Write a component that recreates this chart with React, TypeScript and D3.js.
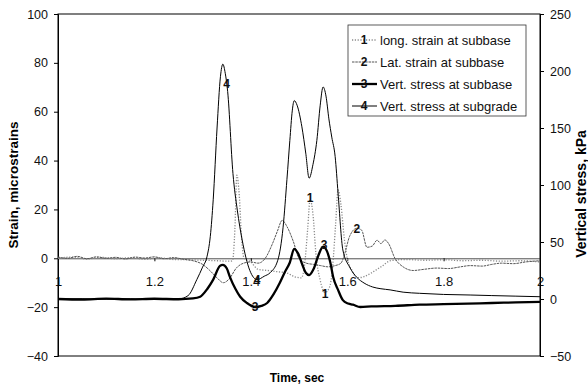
import React, {useEffect, useRef} from 'react';
import * as d3 from 'd3';

// Long. strain at subbase (microstrains, left axis)
const longTime = [1.00, 1.03, 1.06, 1.09, 1.12, 1.15, 1.18, 1.21, 1.24, 1.27, 1.30, 1.33, 1.355, 1.362, 1.367, 1.371, 1.376, 1.381, 1.386, 1.40, 1.415, 1.435, 1.455, 1.475, 1.49, 1.505, 1.512, 1.518, 1.523, 1.529, 1.535, 1.544, 1.554, 1.563, 1.57, 1.576, 1.581, 1.587, 1.594, 1.60, 1.61, 1.62, 1.635, 1.65, 1.67, 1.69, 1.72, 1.76, 1.80, 1.84, 1.88, 1.92, 1.96, 2.00];
const longStrain = [0, 0.5, -0.3, 0.4, -0.2, 0.3, -0.4, 0.2, -0.5, -0.6, -0.8, -1, -1.2, -1, 12, 34, 26, 8, 0, -1.5, -4.5, -5, -5.5, -6, -7.5, -8, -2, 12, 24, 18, 2, -9, -14, -12, -3, 14, 28, 22, 8, 0, -5, -8, -7.5, -6, -3.5, -1, -0.5, -0.8, -0.6, -1, -0.8, -1.2, -1, -1.5];

// Lat. strain at subbase (microstrains, left axis)
const latTime = [1.00, 1.02, 1.04, 1.06, 1.08, 1.10, 1.12, 1.14, 1.16, 1.18, 1.20, 1.22, 1.24, 1.26, 1.28, 1.30, 1.315, 1.33, 1.343, 1.355, 1.37, 1.385, 1.40, 1.415, 1.43, 1.445, 1.455, 1.465, 1.475, 1.488, 1.50, 1.515, 1.53, 1.545, 1.56, 1.575, 1.587, 1.595, 1.605, 1.62, 1.63, 1.641, 1.652, 1.662, 1.67, 1.678, 1.686, 1.699, 1.716, 1.737, 1.76, 1.786, 1.81, 1.835, 1.855, 1.88, 1.90, 1.92, 1.945, 1.97, 2.00];
const latStrain = [0.5, 0, 0.8, -0.2, 0.6, 0, 0.4, -0.3, 0.5, 0.1, 0.6, -0.2, 0.3, -0.4, -1, -2.5, -5, -8, -10, -8.5, -4, -2, -1.5, -2, 0, 6, 11, 15.5, 13, 7, 0, -2, -2.5, -3, -3.5, -3, -2, 2, 9, 12.3, 11.5, 4.5, 5, 7.4, 6, 7.5, 6, 0, -3.5, -5, -4.5, -4, -4.2, -3.5, -3, -3.2, -2.5, -2, -2.2, -1.5, -1];

// Vert. stress at subbase (kPa, right axis)
const subbaseTime = [1.00, 1.05, 1.10, 1.15, 1.20, 1.25, 1.28, 1.295, 1.31, 1.322, 1.336, 1.342, 1.35, 1.357, 1.368, 1.378, 1.392, 1.409, 1.422, 1.434, 1.447, 1.46, 1.471, 1.481, 1.49, 1.498, 1.507, 1.514, 1.521, 1.53, 1.54, 1.55, 1.558, 1.565, 1.571, 1.581, 1.591, 1.602, 1.612, 1.627, 1.65, 1.70, 1.75, 1.80, 1.85, 1.90, 1.95, 2.00];
const subbaseStress = [0, -0.5, 0.3, -0.3, 0.2, -0.2, 0.5, 2, 9, 17, 29, 30, 27, 19, 9, 2, -3.5, -7, -6, -3.5, 4, 14, 24, 32, 44, 40, 30, 23, 21, 26, 38, 46, 42, 32, 19, 8, -1, -4, -5, -7, -6.5, -6, -5, -4.5, -4, -3.5, -3, -2.5];

// Vert. stress at subgrade (kPa, right axis)
const subgradeTime = [1.00, 1.05, 1.10, 1.15, 1.20, 1.25, 1.27, 1.288, 1.30, 1.309, 1.316, 1.322, 1.33, 1.337, 1.342, 1.347, 1.352, 1.363, 1.372, 1.382, 1.398, 1.413, 1.428, 1.44, 1.456, 1.467, 1.475, 1.481, 1.486, 1.49, 1.496, 1.506, 1.514, 1.521, 1.529, 1.537, 1.544, 1.55, 1.556, 1.562, 1.568, 1.575, 1.581, 1.591, 1.605, 1.62, 1.635, 1.653, 1.67, 1.689, 1.716, 1.75, 1.80, 1.855, 1.90, 1.95, 2.00];
const subgradeStress = [0, 0.3, -0.2, 0.2, -0.3, 0, 3, 17, 28, 37, 55, 87, 150, 195, 206, 198, 182, 110, 78, 52, 25, 17, 20, 23, 34, 63, 105, 139, 165, 174, 170, 151, 128, 106, 118, 139, 170, 186, 178, 158, 142, 125, 93, 43, 28, 19, 14, 10.5, 9, 8, 6, 5, 4, 3.5, 3, 2.5, 2];

// numbered markers (time, value)
const longMarks = [[1.523, 25], [1.554, -14.5]];
const latMarks = [[1.62, 12.3]];
const subbaseMarks = [[1.409, -7], [1.552, 48]];
const subgradeMarks = [[1.35, 189], [1.413, 17]];

const timeTicks = [1, 1.2, 1.4, 1.6, 1.8, 2];
const strainTicks = [-40, -20, 0, 20, 40, 60, 80, 100];
const stressTicks = [-50, 0, 50, 100, 150, 200, 250];

const legendLabels = ['long. strain at subbase', 'Lat. strain at subbase', 'Vert. stress at subbase', 'Vert. stress at subgrade'];

const FONT = '"Liberation Sans", Arial, sans-serif';

const Chart = ({width, height}) => {
    const svgRef = useRef(null);

    useEffect(() => {
        const svg = d3.select(svgRef.current);
        svg.selectAll('*').remove();

        const left = 58, right = 540, top = 14, bottom = 356;

        const x = d3.scaleLinear().domain([1, 2]).range([left, right]);
        const yL = d3.scaleLinear().domain([-40, 100]).range([bottom, top]);
        const yR = d3.scaleLinear().domain([-50, 250]).range([bottom, top]);

        const series = [
            {t: longTime, v: longStrain, y: yL, stroke: '#8a8a8a', w: 1.3, dash: '1.2,1.6', marks: longMarks, num: '1'},
            {t: latTime, v: latStrain, y: yL, stroke: '#555', w: 1, dash: '2.5,0.8', marks: latMarks, num: '2'},
            {t: subbaseTime, v: subbaseStress, y: yR, stroke: '#000', w: 2.3, dash: null, marks: subbaseMarks, num: '3'},
            {t: subgradeTime, v: subgradeStress, y: yR, stroke: '#000', w: 1, dash: null, marks: subgradeMarks, num: '4'},
        ];

        // plot frame
        svg.append('rect')
            .attr('x', left).attr('y', top)
            .attr('width', right - left).attr('height', bottom - top)
            .attr('fill', 'none').attr('stroke', '#000').attr('stroke-width', 1);

        // x axis across at zero strain
        const xAxis = d3.axisBottom(x).tickValues(timeTicks).tickSize(3).tickPadding(15)
            .tickFormat(d => String(+d.toFixed(1)));
        const xg = svg.append('g')
            .attr('transform', `translate(0, ${yL(0)})`)
            .call(xAxis);
        xg.select('.domain').attr('stroke', '#222').attr('stroke-width', 0.8);
        xg.selectAll('text').attr('font-size', 13).attr('font-family', FONT).attr('fill', '#111');

        // left axis
        const lg = svg.append('g')
            .attr('transform', `translate(${left}, 0)`)
            .call(d3.axisLeft(yL).tickValues(strainTicks).tickSize(4).tickPadding(6));
        lg.selectAll('text').attr('font-size', 12.5).attr('font-family', FONT).attr('fill', '#111');

        // right axis
        const rg = svg.append('g')
            .attr('transform', `translate(${right}, 0)`)
            .call(d3.axisRight(yR).tickValues(stressTicks).tickSize(4).tickPadding(6));
        rg.selectAll('text').attr('font-size', 12.5).attr('font-family', FONT).attr('fill', '#111');

        // series lines
        series.forEach(s => {
            const pts = s.t.map((t, i) => [t, s.v[i]]);
            const line = d3.line()
                .x(d => x(d[0]))
                .y(d => s.y(d[1]))
                .curve(d3.curveMonotoneX);
            svg.append('path')
                .datum(pts)
                .attr('d', line)
                .attr('fill', 'none')
                .attr('stroke', s.stroke)
                .attr('stroke-width', s.w)
                .attr('stroke-dasharray', s.dash)
                .attr('stroke-linejoin', 'round');
        });

        // numbered markers
        series.forEach(s => {
            svg.append('g').selectAll('text')
                .data(s.marks)
                .enter()
                .append('text')
                .attr('x', d => x(d[0]))
                .attr('y', d => s.y(d[1]))
                .attr('dy', '0.36em')
                .attr('text-anchor', 'middle')
                .attr('font-family', FONT)
                .attr('font-size', 12)
                .attr('font-weight', 'bold')
                .attr('fill', '#111')
                .text(s.num);
        });

        // legend
        const leg = svg.append('g');
        leg.append('rect')
            .attr('x', 348).attr('y', 25)
            .attr('width', 178).attr('height', 91)
            .attr('fill', '#fff')
            .attr('stroke', '#333').attr('stroke-width', 0.8);
        series.forEach((s, i) => {
            const cy = 40 + i * 22;
            leg.append('line')
                .attr('x1', 352).attr('x2', 377)
                .attr('y1', cy).attr('y2', cy)
                .attr('stroke', s.stroke)
                .attr('stroke-width', s.w)
                .attr('stroke-dasharray', s.dash);
            leg.append('text')
                .attr('x', 364).attr('y', cy).attr('dy', '0.36em')
                .attr('text-anchor', 'middle')
                .attr('font-family', FONT).attr('font-size', 12).attr('font-weight', 'bold')
                .attr('fill', '#111')
                .text(s.num);
            leg.append('text')
                .attr('x', 380).attr('y', cy).attr('dy', '0.36em')
                .attr('font-family', FONT).attr('font-size', 13)
                .attr('fill', '#111')
                .text(legendLabels[i]);
        });

        // axis titles
        svg.append('text')
            .attr('transform', `translate(13, 185) rotate(-90)`)
            .attr('text-anchor', 'middle').attr('dy', '0.36em')
            .attr('font-family', FONT).attr('font-size', 13.5).attr('font-weight', 'bold')
            .text('Strain, microstrains');
        svg.append('text')
            .attr('transform', `translate(581, 194) rotate(-90)`)
            .attr('text-anchor', 'middle').attr('dy', '0.36em')
            .attr('font-family', FONT).attr('font-size', 14).attr('font-weight', 'bold')
            .text('Vertical stress, kPa');
        svg.append('text')
            .attr('x', 297).attr('y', 378).attr('dy', '0.36em')
            .attr('text-anchor', 'middle')
            .attr('font-family', FONT).attr('font-size', 12).attr('font-weight', 'bold')
            .text('Time, sec');
    }, [width, height]);

    return <svg ref={svgRef} width={width} height={height} style={{display: 'block', background: '#fff'}}></svg>;
};

export default function App() {
    return (
        <div style={{position: 'absolute', left: 0, top: 0}}>
            <Chart width={588} height={392}/>
        </div>
    );
}
